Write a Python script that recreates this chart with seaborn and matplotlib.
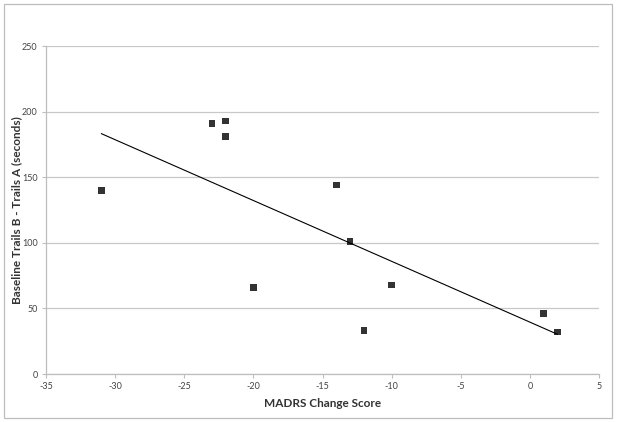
import matplotlib
matplotlib.use("Agg")
import matplotlib.pyplot as plt
import matplotlib.patches as mpatches
import seaborn as sns
import pandas as pd

madrs_change = [-31, -23, -22, -22, -20, -14, -13, -12, -10, 1, 2]
trails_diff = [140, 191, 193, 181, 66, 144, 101, 33, 68, 46, 32]
x_ticks = [-35, -30, -25, -20, -15, -10, -5, 0, 5]
y_ticks = [0, 50, 100, 150, 200, 250]

df = pd.DataFrame({"x": madrs_change, "y": trails_diff})

sns.set_theme(style="white")
plt.rcParams["font.family"] = ["Lato", "DejaVu Sans"]

fig = plt.figure(figsize=(6.17, 4.22), dpi=100)
ax = fig.add_axes([46/617, 1-374/422, (599-46)/617, (374-46)/422])

ax.yaxis.grid(True, color="#c8c8c8", linewidth=0.9)
ax.set_axisbelow(True)

sns.regplot(data=df, x="x", y="y", ax=ax, ci=None, truncate=True,
            marker="s",
            scatter_kws=dict(color="black", s=22, edgecolor="none", zorder=3),
            line_kws=dict(color="black", linewidth=0.8, zorder=2))

ax.set_xlim(-35, 5)
ax.set_ylim(0, 250)
ax.set_xticks(x_ticks)
ax.set_yticks(y_ticks)
ax.set_xticklabels([str(t) for t in x_ticks])
ax.set_yticklabels([str(t) for t in y_ticks])

for s in ["top", "right"]:
    ax.spines[s].set_visible(False)
for s in ["left", "bottom"]:
    ax.spines[s].set_color("#bdbdbd")
    ax.spines[s].set_linewidth(0.9)

ax.tick_params(axis="both", which="major", direction="out", length=3,
               width=0.8, color="#bdbdbd", labelsize=6.5, labelcolor="#444444",
               pad=3)
ax.tick_params(axis="x", bottom=True)
ax.tick_params(axis="y", left=True)

ax.set_xlabel("MADRS Change Score", fontsize=8.5, fontweight="bold",
              color="#333333", labelpad=4.5)
ax.set_ylabel("Baseline Trails B - Trails A (seconds)", fontsize=8.5,
              fontweight="bold", color="#333333", labelpad=0)

border = mpatches.Rectangle((4/617, 4/422), 608/617, 414/422,
                            transform=fig.transFigure, fill=False,
                            edgecolor="#bdbdbd", linewidth=0.9)
fig.patches.append(border)

fig.savefig("out.png", dpi=100)
